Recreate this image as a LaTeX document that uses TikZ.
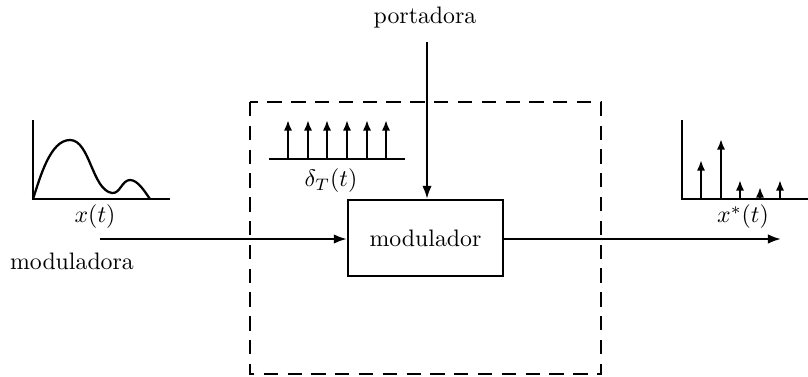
\documentclass[tikz,border=0pt]{standalone}
\usetikzlibrary{arrows.meta}
\begin{document}
\begin{tikzpicture}[x=0.42pt,y=-0.42pt,
  ln/.style={line width=0.95pt},
  arr/.style={line width=0.9pt,-{Latex[length=5.5pt,width=4pt]}},
  sarr/.style={line width=0.95pt,-{Latex[length=4.5pt,width=3.5pt]}},
  lbl/.style={inner sep=0pt}]
\useasboundingbox (0,0) rectangle (808,376);
% dashed box
\draw[line width=1.2pt,dash pattern=on 6pt off 4pt] (250,102) rectangle (601,374);
% modulator
\node[draw,ln,minimum width=155*0.42pt,minimum height=76*0.42pt,inner sep=0pt] (mod) at (425.5,238) {modulador};
% portadora
\node[lbl] (port) at (425,18) {portadora};
\coordinate (pin) at (427,42);
\draw[arr] (pin) -- (mod.north -| pin);
% input
\coordinate (in) at (100,239);
\node[lbl] (modl) at (72,261) {moduladora};
\draw[arr] (in) -- (mod.west |- in);
% output
\coordinate (out) at (781,239);
\draw[arr] (mod.east |- out) -- (out);
% left plot
\coordinate (lo) at (33,199);
\draw[ln] (33,120) -- (lo) -- (170,199);
\draw[ln] (lo) .. controls (40,178) and (50,140) .. (70,140)
  .. controls (90,140) and (92,190) .. (112,193)
  .. controls (120,194) and (122,180) .. (130,180)
  .. controls (138,180) and (145,192) .. (150,199);
\node[lbl] (xt) at (95,217) {$x(t)$};
% delta comb
\draw[ln] (269,159) -- (405,159);
\foreach \xx in {288,308,327,347,367,386}
  \draw[sarr] (\xx,159) -- (\xx,120);
\node[lbl] (dt) at (331,181) {$\delta_T(t)$};
% right plot
\draw[ln] (682,120) -- (682,199) -- (808,199);
\draw[sarr] (701,199) -- (701,160);
\draw[sarr] (721,199) -- (721,139);
\draw[sarr] (740,199) -- (740,180);
\draw[sarr] (760,199) -- (760,187);
\draw[sarr] (780,199) -- (780,180);
\node[lbl] (xs) at (743,217) {$x^*(t)$};
\end{tikzpicture}
\end{document}
